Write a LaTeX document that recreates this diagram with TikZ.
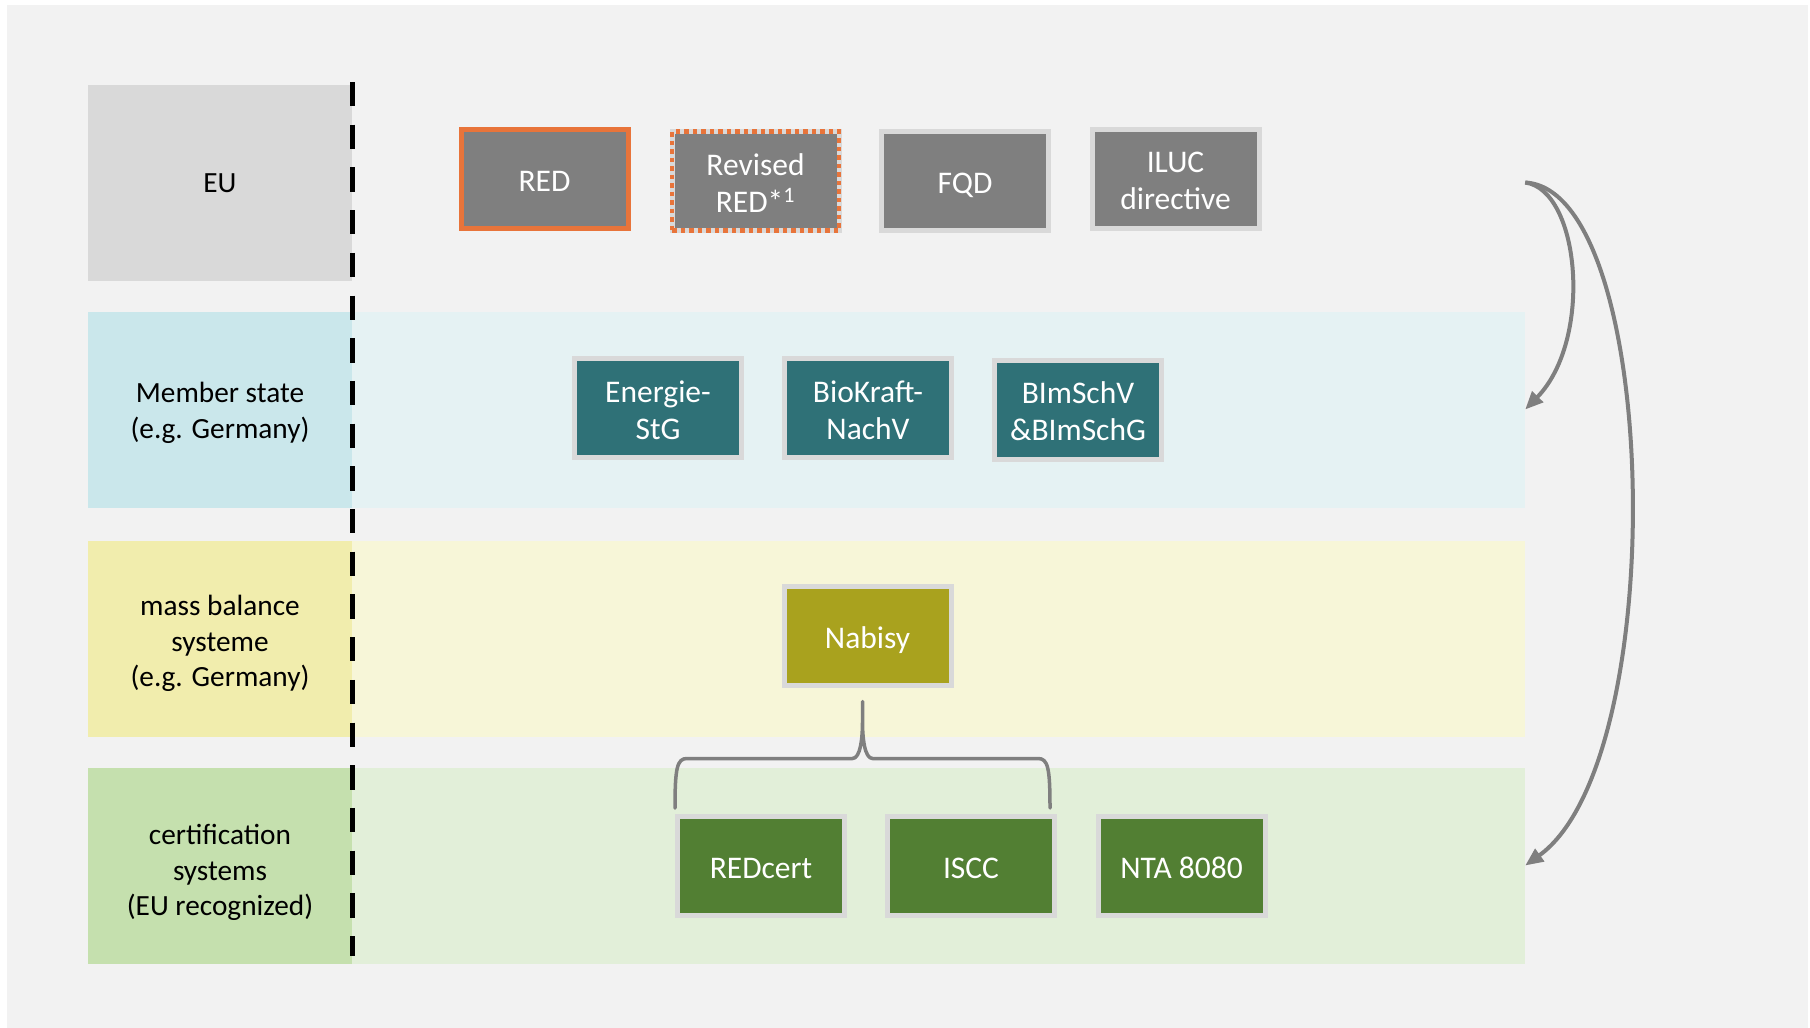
\documentclass[tikz,border=0pt]{standalone}
\usepackage{fontspec}
\setmainfont{Carlito}
\usetikzlibrary{arrows.meta,calc}
\definecolor{bgc}{HTML}{F2F2F2}
\definecolor{eulab}{HTML}{D9D9D9}
\definecolor{mslab}{HTML}{CAE7EB}
\definecolor{msband}{HTML}{E5F2F3}
\definecolor{mblab}{HTML}{F1EDAD}
\definecolor{mbband}{HTML}{F7F6D8}
\definecolor{cslab}{HTML}{C5E0AE}
\definecolor{csband}{HTML}{E2EFD9}
\definecolor{boxgray}{HTML}{7F7F7F}
\definecolor{frame}{HTML}{D9D9D9}
\definecolor{redor}{HTML}{E8743A}
\definecolor{teal}{HTML}{2F7177}
\definecolor{olive}{HTML}{A9A21E}
\definecolor{dgreen}{HTML}{527F33}
\definecolor{linegray}{HTML}{7F7F7F}
\newcommand\lblfont{\fontsize{29.3}{35.8}\selectfont}
\newcommand\bxfont{\fontsize{31.5}{37}\selectfont}
\newcommand\bT{\rule{0pt}{32pt}}
\newcommand\lT[1]{\rule{0pt}{#1}}
\begin{document}
\begin{tikzpicture}[x=1pt,y=-1pt,
  lab/.style={rectangle, inner sep=0pt, minimum width=264pt, minimum height=196pt, align=center, font=\lblfont, text=black,
    execute at end node={\rule[-7pt]{0pt}{0pt}}},
  band/.style={rectangle, inner sep=0pt, minimum width=1173pt, minimum height=196pt},
  box/.style={rectangle, draw=frame, line width=5pt, minimum width=167pt, minimum height=99pt, inner sep=0pt, text=white, align=center, font=\bxfont,
    execute at end node={\rule[-7pt]{0pt}{0pt}}},
  brace/.style={draw=linegray, line width=3.5pt, line cap=round, line join=round},
  arr/.style={draw=linegray, line width=4pt, -{Triangle[length=18pt,width=15pt]}}
]
\useasboundingbox (0,0) rectangle (1810,1028);
\fill[white] (0,0) rectangle (1810,1028);
\fill[bgc] (7,5) rectangle (1808,1028);

% row labels and bands
\node[lab, fill=eulab] (eulab) at (220,182.5) {\lT{27pt}EU};
\node[band] (euband) at (938.5,182.5) {};
\node[lab, fill=mslab] (mslab) at (220,409.5) {\lT{29.5pt}Member state\\(e.g. Germany)};
\node[band, fill=msband] (msband) at (938.5,409.5) {};
\node[lab, fill=mblab] (mblab) at (220,638.5) {\lT{32pt}mass balance\\systeme\\(e.g. Germany)};
\node[band, fill=mbband] (mbband) at (938.5,638.5) {};
\node[lab, fill=cslab] (cslab) at (220,865.5) {\lT{36pt}certification\\systems\\(EU recognized)};
\node[band, fill=csband] (csband) at (938.5,865.5) {};

% dashed separator
\draw[black, line width=5.5pt, dash pattern=on 24.3pt off 18.4pt] (352.5,82) -- (352.5,956);

% EU row
\node[box, draw=redor, fill=boxgray] (RED) at (544.5,178.5) {\bT RED};
\node[box, fill=boxgray, postaction={draw=redor, line width=4.5pt, dash pattern=on 4.5pt off 4pt}] (RRED) at (755.5,181) {\bT Revised\\RED*\textsuperscript{1}};
\node[box, fill=boxgray] (FQD) at (965,180.5) {\bT FQD};
\node[box, fill=boxgray] (ILUC) at (1175.5,178.5) {\bT ILUC\\directive};

% Member state row
\node[box, fill=teal] (EStG) at (658,408) {\bT Energie-\\StG};
\node[box, fill=teal] (BioK) at (868,408) {\bT BioKraft-\\NachV};
\node[box, fill=teal] (BImS) at (1078,409.5) {\bT BImSchV\\\&BImSchG};

% mass balance row
\node[box, fill=olive] (Nabisy) at (867.5,635.5) {\bT Nabisy};

% certification row
\node[box, fill=dgreen] (REDcert) at (761,866) {\bT REDcert};
\node[box, fill=dgreen] (ISCC) at (971,866) {\bT ISCC};
\node[box, fill=dgreen] (NTA) at (1181.5,865.5) {\bT NTA 8080};

% brace from Nabisy to REDcert and ISCC
\path (REDcert.north west) ++(0,-6) coordinate (bl)
      (ISCC.north east) ++(-7,-6) coordinate (br)
      (Nabisy.south) ++(-5,14) coordinate (bt);
\coordinate (bh) at ($(bt)+(0,57)$);
\draw[brace] (bl) .. controls ($(bl)+(0,-40)$) and ($(bl |- bh)+(2,0)$) .. ($(bl |- bh)+(12,0)$)
  -- ($(bh)+(-10,0)$) .. controls ($(bh)+(-2,0)$) and ($(bt)+(0,36)$) .. ($(bt)+(0,20)$)
  -- (bt) -- ($(bt)+(0,20)$) .. controls ($(bt)+(0,36)$) and ($(bh)+(2,0)$) .. ($(bh)+(10,0)$)
  -- ($(br |- bh)+(-12,0)$) .. controls ($(br |- bh)+(-2,0)$) and ($(br)+(0,-40)$) .. (br);

% curved arrows
\draw[arr] (euband.east) .. controls +(55,7.5) and +(68,-69.5) .. (msband.east);
\draw[arr] (euband.east) .. controls +(135,7.5) and +(147,-105.5) .. (csband.east);
\end{tikzpicture}
\end{document}
